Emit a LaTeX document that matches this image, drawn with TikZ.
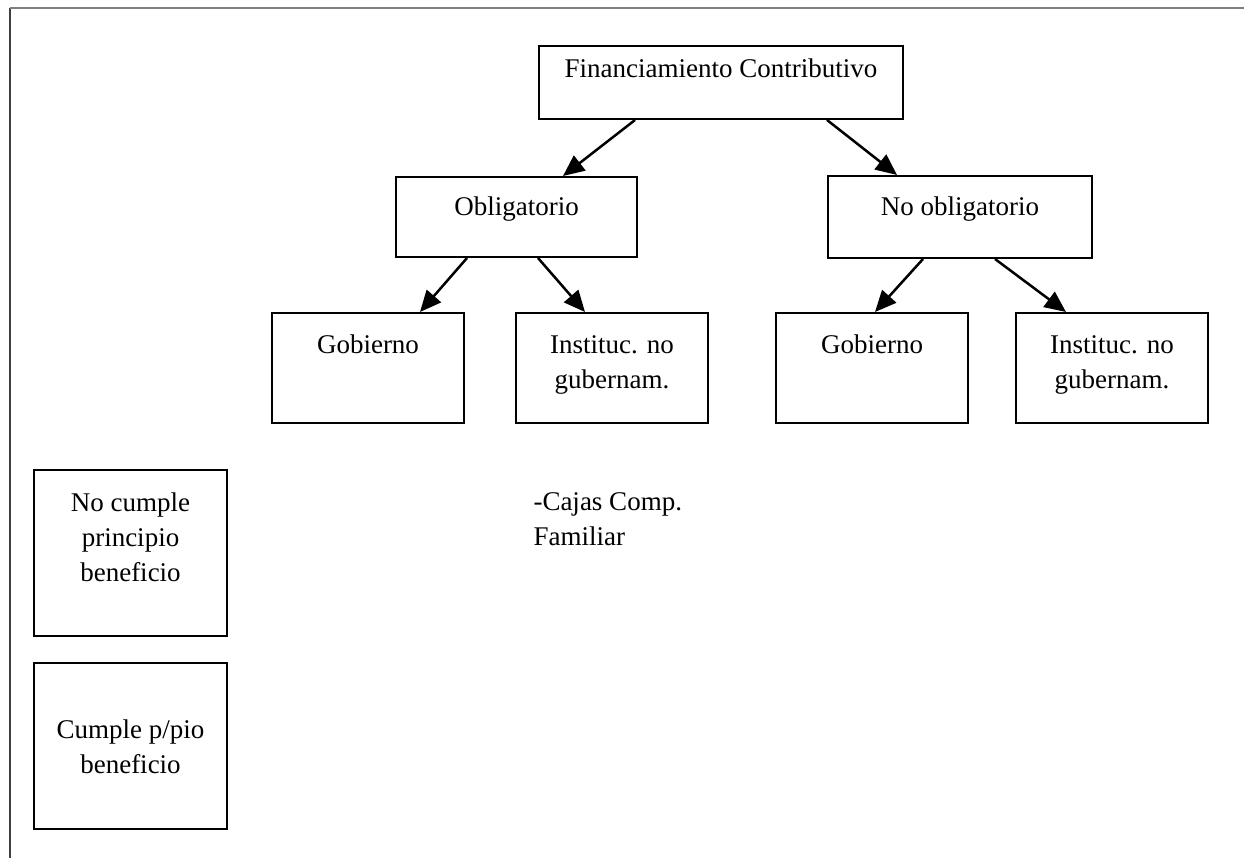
\documentclass[tikz,border=0pt]{standalone}
\usepackage{fontspec}
\setmainfont{Liberation Serif}
\usetikzlibrary{arrows.meta,calc}
\newdimen\pxu \pxu=0.4pt
\newcommand\bx[4]{\parbox[t][#2\pxu][t]{#1\pxu}{\centering\vspace*{\dimexpr#3\pxu-\ht\strutbox\relax}\strut #4}}
\tikzset{
  boxnode/.style={draw=black, line width=0.8pt, inner sep=0pt, anchor=north west},
  arr/.style={line width=1pt, -{Triangle[length=8.5pt,width=7.5pt]}},
}
\begin{document}
\begin{tikzpicture}[x=0.4pt,y=-0.4pt,font=\fontsize{10.8}{14}\selectfont]
\useasboundingbox (0,0) rectangle (1244,858);
\coordinate (f1) at (10,858);
\coordinate (f2) at (10,8);
\coordinate (f3) at (1244,8);
\draw[line width=0.5pt, draw=black!75] (f1) -- (f2);
\draw[line width=0.8pt, draw=black!50] (f2) -- (f3);

\node[boxnode] (top) at (538,45) {\bx{364}{73}{32}{Financiamiento Contributivo}};
\node[boxnode] (obl) at (395,176) {\bx{241}{80}{39}{Obligatorio}};
\node[boxnode] (noobl) at (827,175) {\bx{264}{82}{40}{No obligatorio}};
\node[boxnode] (gob1) at (271,312) {\bx{192}{110}{41}{Gobierno}};
\node[boxnode] (inst1) at (515,312) {\bx{192}{110}{41}{Instituc. no\\gubernam.}};
\node[boxnode] (gob2) at (775,312) {\bx{192}{110}{41}{Gobierno}};
\node[boxnode] (inst2) at (1015,312) {\bx{192}{110}{41}{Instituc. no\\gubernam.}};
\node[boxnode] (nocumple) at (33,469) {\bx{193}{166}{41}{No cumple\\principio\\beneficio}};
\node[boxnode] (cumple) at (33,662) {\bx{193}{166}{75}{Cumple p/pio\\beneficio}};
\node[anchor=base west, inner sep=0pt, align=left] (cajas) at (533,545) {-Cajas Comp.\\Familiar};

\draw[arr] ($(top.south west)+(97,0)$) -- ($(obl.north west)+(168,0)$);
\draw[arr] ($(top.south west)+(289,0)$) -- ($(noobl.north west)+(70,0)$);
\draw[arr] ($(obl.south west)+(72,0)$) -- ($(gob1.north west)+(149,0)$);
\draw[arr] ($(obl.south west)+(143,0)$) -- ($(inst1.north west)+(70,0)$);
\draw[arr] ($(noobl.south west)+(96,0)$) -- ($(gob2.north west)+(100,0)$);
\draw[arr] ($(noobl.south west)+(168,0)$) -- ($(inst2.north west)+(51,0)$);
\end{tikzpicture}
\end{document}
